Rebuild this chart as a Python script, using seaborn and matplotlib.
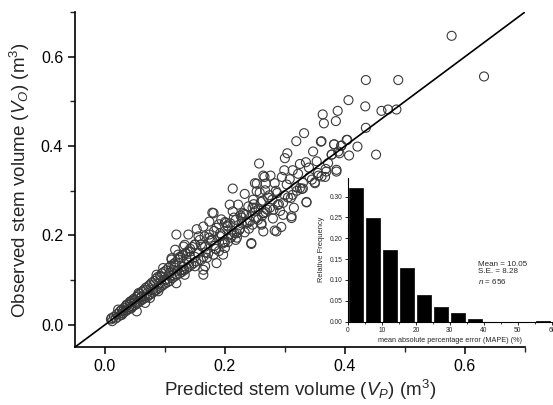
import numpy as np
import pandas as pd
import matplotlib
matplotlib.use("Agg")
import matplotlib.pyplot as plt
import seaborn as sns

# ---------------- data ----------------
pred = [
    # dense low region
    0.010,0.012,0.015,0.018,0.020,0.022,0.025,0.026,0.028,0.030,0.032,0.033,0.035,0.036,0.038,0.040,
    0.042,0.043,0.045,0.046,0.048,0.050,0.052,0.053,0.055,0.056,0.058,0.060,0.062,0.063,0.065,0.066,
    0.068,0.070,0.072,0.073,0.075,0.076,0.078,0.080,0.082,0.083,0.085,0.086,0.088,0.090,0.092,0.093,
    0.095,0.096,0.098,0.100,0.102,0.104,0.106,0.108,0.110,0.112,0.114,0.116,0.118,0.120,0.122,0.124,
    0.126,0.128,0.130,0.132,0.134,0.136,0.138,0.140,0.142,0.144,0.146,0.148,0.150,0.152,
    0.030,0.050,0.070,0.090,0.110,0.130,0.150,0.040,0.060,0.080,0.100,0.120,0.140,
    0.011,0.022,0.028,0.036,0.044,0.050,0.042,0.061,0.056,0.069,0.075,0.081,0.089,0.086,0.094,0.103,
    0.108,0.117,0.128,0.136,0.122,0.131,0.142,0.111,0.097,0.119,0.133,0.067,0.053,
    # middle region
    0.213,0.233,0.253,0.266,0.258,0.179,0.208,0.222,0.239,0.213,0.235,0.256,0.174,0.194,0.209,0.228,
    0.246,0.261,0.153,0.164,0.186,0.211,0.233,0.244,0.119,0.139,0.156,0.174,0.192,0.133,0.150,0.167,
    0.183,0.200,0.117,0.125,0.142,0.164,0.181,0.197,0.111,0.150,0.167,0.131,0.114,0.186,
    0.244,0.286,0.164,0.164,0.181,0.160,0.170,0.178,0.190,0.200,0.205,0.215,0.220,0.225,0.230,0.240,
    0.160,0.172,0.185,0.195,0.205,0.218,0.226,0.236,0.248,0.255,0.265,0.272,0.190,0.200,0.210,0.220,
    0.155,0.162,0.168,0.176,0.184,0.192,0.198,0.204,0.212,0.218,0.224,0.232,0.238,0.246,0.252,0.260,
    0.268,0.274,0.158,0.166,0.174,0.182,0.196,0.202,0.216,0.228,0.242,0.250,0.262,0.270,
    # upper-middle region
    0.332,0.319,0.360,0.382,0.394,0.403,0.304,0.347,0.378,0.391,0.300,0.335,0.353,0.257,0.325,0.299,
    0.313,0.368,0.386,0.264,0.276,0.295,0.308,0.341,0.356,0.367,0.250,0.268,0.283,0.303,0.319,0.350,
    0.328,0.253,0.267,0.287,0.313,0.336,0.247,0.263,0.279,0.297,0.297,0.311,0.250,0.264,0.281,
    0.336,0.311,0.294,0.283,0.261,0.264,0.325,0.350,0.361,0.386,0.369,
    0.275,0.290,0.305,0.320,0.330,0.345,0.280,0.292,0.315,
    0.285,0.300,0.322,0.340,0.355,0.372,0.288,0.310,0.330,
    # upper region
    0.578,0.632,0.435,0.489,0.406,0.434,0.461,0.472,0.486,0.388,0.385,0.363,0.365,0.435,0.361,0.382,
    0.394,0.404,0.421,0.452,0.407,0.378,0.389,
]
obs = [
    0.012,0.008,0.018,0.014,0.024,0.018,0.030,0.022,0.034,0.026,0.038,0.029,0.042,0.032,0.046,0.035,
    0.050,0.038,0.054,0.041,0.058,0.044,0.062,0.047,0.066,0.050,0.070,0.054,0.075,0.057,0.078,0.060,
    0.083,0.062,0.086,0.066,0.090,0.068,0.094,0.072,0.098,0.076,0.103,0.078,0.107,0.082,0.110,0.085,
    0.115,0.088,0.118,0.092,0.122,0.095,0.128,0.098,0.132,0.104,0.136,0.108,0.140,0.112,0.146,0.115,
    0.150,0.118,0.156,0.122,0.160,0.126,0.164,0.130,0.170,0.134,0.174,0.138,0.180,0.142,
    0.031,0.050,0.070,0.092,0.110,0.130,0.152,0.040,0.061,0.079,0.101,0.121,0.139,
    0.015,0.034,0.022,0.045,0.037,0.056,0.052,0.063,0.071,0.078,0.060,0.090,0.075,0.112,0.108,0.101,
    0.116,0.134,0.123,0.146,0.157,0.175,0.164,0.149,0.127,0.093,0.112,0.049,0.030,
    0.305,0.293,0.316,0.331,0.296,0.251,0.269,0.269,0.265,0.254,0.246,0.259,0.231,0.236,0.227,0.227,
    0.224,0.227,0.214,0.220,0.217,0.211,0.207,0.181,0.202,0.202,0.198,0.202,0.198,0.179,0.179,0.175,
    0.177,0.172,0.168,0.152,0.152,0.152,0.157,0.157,0.146,0.131,0.131,0.123,0.123,0.138,
    0.183,0.209,0.123,0.112,0.250,0.180,0.150,0.190,0.165,0.230,0.185,0.240,0.195,0.215,0.250,0.215,
    0.145,0.160,0.170,0.200,0.220,0.190,0.245,0.230,0.270,0.235,0.250,0.285,0.225,0.185,0.195,0.205,
    0.160,0.175,0.162,0.188,0.170,0.205,0.185,0.222,0.200,0.235,0.212,0.248,0.228,0.262,0.238,0.275,
    0.252,0.290,0.190,0.198,0.195,0.210,0.182,0.228,0.205,0.240,0.232,0.262,0.244,0.258,
    # upper-middle region
    0.429,0.411,0.410,0.404,0.401,0.414,0.384,0.388,0.381,0.384,0.373,0.364,0.366,0.361,0.360,0.346,
    0.346,0.349,0.347,0.334,0.334,0.331,0.326,0.331,0.334,0.331,0.317,0.316,0.317,0.314,0.308,0.319,
    0.304,0.299,0.301,0.295,0.291,0.274,0.280,0.278,0.280,0.273,0.246,0.243,0.254,0.250,0.258,
    0.275,0.239,0.219,0.211,0.224,0.209,0.306,0.317,0.332,0.343,0.343,
    0.262,0.270,0.285,0.300,0.318,0.325,0.238,0.255,0.262,
    0.300,0.290,0.338,0.352,0.340,0.362,0.268,0.284,0.305,
    0.647,0.556,0.548,0.548,0.503,0.489,0.479,0.482,0.482,0.479,0.456,0.471,0.451,0.441,0.411,0.404,
    0.401,0.414,0.399,0.381,0.379,0.381,0.388,
]

bin_centers = [2.5, 7.5, 12.5, 17.5, 22.5, 27.5, 32.5, 37.5, 42.5, 47.5, 52.5, 57.5]
rel_freq = [0.321, 0.249, 0.171, 0.128, 0.063, 0.036, 0.020, 0.006, 0.0, 0.0, 0.0, 0.002]
bin_edges = [0, 5, 10, 15, 20, 25, 30, 35, 40, 45, 50, 55, 60]

x_ticks = [0.0, 0.2, 0.4, 0.6]
y_ticks = [0.0, 0.2, 0.4, 0.6]
inset_xticks = [0, 10, 20, 30, 40, 50, 60]
inset_yticks = [0.00, 0.05, 0.10, 0.15, 0.20, 0.25, 0.30]
stats_text = "Mean = 10.05\nS.E. = 8.28\n$n$ = 656"

df = pd.DataFrame({"pred": pred, "obs": obs})

# ---------------- style ----------------
sns.set_theme(style="ticks")
plt.rcParams["font.family"] = ["Liberation Sans", "DejaVu Sans"]
plt.rcParams["mathtext.fontset"] = "custom"
plt.rcParams["mathtext.rm"] = "Liberation Sans"
plt.rcParams["mathtext.it"] = "Liberation Sans:italic"
plt.rcParams["mathtext.bf"] = "Liberation Sans:bold"

fig = plt.figure(figsize=(5.53, 4.05), dpi=100)
ax = fig.add_axes([0.1356, 0.143, 0.8134, 0.827])

sns.scatterplot(data=df, x="pred", y="obs", ax=ax, s=42, marker="o",
                facecolors="none", edgecolor="#3a3a3a", linewidth=0.8, zorder=2)
ax.axline((0, 0), slope=1, color="black", lw=1.2, zorder=3)

ax.set_xlim(-0.05, 0.70)
ax.set_ylim(-0.05, 0.70)
ax.set_xticks(x_ticks)
ax.set_yticks(y_ticks)
ax.set_xticklabels([f"{v:.1f}" for v in x_ticks])
ax.set_yticklabels([f"{v:.1f}" for v in y_ticks])
ax.xaxis.set_minor_locator(matplotlib.ticker.MultipleLocator(0.1))
ax.yaxis.set_minor_locator(matplotlib.ticker.MultipleLocator(0.1))
ax.tick_params(which="major", direction="out", length=5, width=1.1, labelsize=11.5, colors="black")
ax.tick_params(which="minor", direction="out", length=3.5, width=1.0)
for s in ["top", "right"]:
    ax.spines[s].set_visible(False)
for s in ["left", "bottom"]:
    ax.spines[s].set_linewidth(1.2)
    ax.spines[s].set_color("black")
ax.set_xlabel("Predicted stem volume ($V_P$) (m$^3$)", fontsize=13.5, labelpad=3)
ax.set_ylabel("Observed stem volume ($V_O$) (m$^3$)", fontsize=13.5, labelpad=6)

# ---------------- inset ----------------
ax_in = fig.add_axes([0.629, 0.206, 0.369, 0.355])
ax_in.patch.set_alpha(0)
sns.histplot(x=bin_centers, weights=rel_freq, bins=bin_edges, shrink=0.82,
             color="black", edgecolor="black", alpha=1, ax=ax_in, linewidth=0.5)
ax_in.set_xlim(0, 60)
ax_in.set_ylim(0, 0.345)
ax_in.set_xticks(inset_xticks)
ax_in.set_yticks(inset_yticks)
ax_in.set_yticklabels([f"{v:.2f}" for v in inset_yticks])
ax_in.xaxis.set_minor_locator(matplotlib.ticker.MultipleLocator(5))
ax_in.tick_params(which="major", direction="out", length=2.5, width=0.7, labelsize=4.8, pad=1.5)
ax_in.tick_params(which="minor", direction="out", length=1.5, width=0.6)
for s in ["top", "right"]:
    ax_in.spines[s].set_visible(False)
for s in ["left", "bottom"]:
    ax_in.spines[s].set_linewidth(0.8)
    ax_in.spines[s].set_color("black")
ax_in.set_xlabel("mean absolute percentage error (MAPE) (%)", fontsize=5.2, labelpad=2)
ax_in.set_ylabel("Relative Frequency", fontsize=5.4, labelpad=3)
ax_in.text(38.3, 0.146, stats_text, fontsize=5.8, va="top", ha="left", linespacing=1.15)

fig.savefig("out.png", dpi=100)
